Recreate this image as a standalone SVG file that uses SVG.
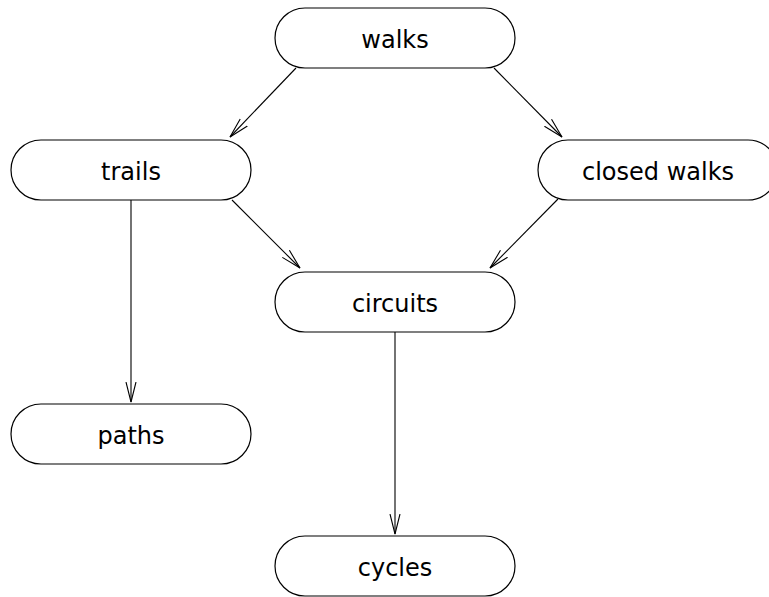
<svg xmlns="http://www.w3.org/2000/svg" width="769" height="597" viewBox="0 0 769 597">
<style>
.node rect{fill:#fff;stroke:#000;stroke-width:1.2}
.node text{font-family:"DejaVu Sans","Liberation Sans",sans-serif;font-size:24px;text-anchor:middle;fill:#000}
.edges line{stroke:#000;stroke-width:1.1;fill:none;marker-end:url(#arr)}
</style>
<defs>
<marker id="arr" markerUnits="userSpaceOnUse" markerWidth="24" markerHeight="14" refX="20" refY="6" orient="auto">
<path d="M0,1 L20,6 L0,11" fill="none" stroke="#000" stroke-width="1.1"/>
</marker>
</defs>
<rect width="769" height="597" fill="#fff"/>
<g class="edges">
<line x1="296" y1="68" x2="230" y2="137"/>
<line x1="494" y1="68" x2="562" y2="137"/>
<line x1="232" y1="200" x2="300" y2="268"/>
<line x1="558" y1="199" x2="490" y2="268"/>
<line x1="131" y1="200" x2="131" y2="402"/>
<line x1="395" y1="332" x2="395" y2="534"/>
</g>
<g id="walks" class="node"><rect x="275" y="8" width="240" height="60" rx="30"/><text x="395" y="48">walks</text></g>
<g id="trails" class="node"><rect x="11" y="140" width="240" height="60" rx="30"/><text x="131" y="180">trails</text></g>
<g id="closed_walks" class="node"><rect x="538" y="140" width="240" height="60" rx="30"/><text x="658" y="180">closed walks</text></g>
<g id="circuits" class="node"><rect x="275" y="272" width="240" height="60" rx="30"/><text x="395" y="312">circuits</text></g>
<g id="paths" class="node"><rect x="11" y="404" width="240" height="60" rx="30"/><text x="131" y="444">paths</text></g>
<g id="cycles" class="node"><rect x="275" y="536" width="240" height="60" rx="30"/><text x="395" y="576">cycles</text></g>
</svg>
